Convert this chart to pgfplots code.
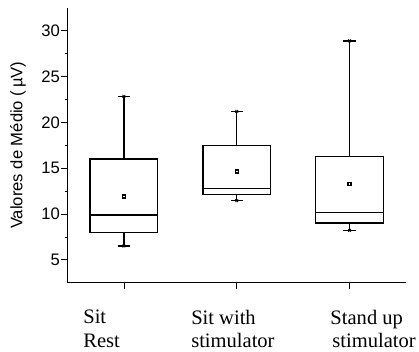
\documentclass[border=0pt]{standalone}
\usepackage{fontspec}
\setmainfont{Liberation Sans}
\newfontfamily\timesf{Liberation Serif}
\usepackage{pgfplots}
\pgfplotsset{compat=1.18}
\usepgfplotslibrary{statistics}
\begin{document}
\begin{tikzpicture}
\begin{axis}[
  scale only axis,
  width=346bp, height=281bp,
  xmin=-0.5, xmax=2.5,
  ymin=2.5, ymax=32.5,
  axis lines*=left,
  axis line style={line width=0.8bp},
  clip=false,
  xtick={0,1,2},
  xticklabels={{\hspace*{5bp}Sit\\\hspace*{5bp}Rest},{Sit with\\stimulator},{\hspace*{27bp}Stand up\\\hspace*{29bp}stimulator}},
  xticklabel style={font=\timesf\fontsize{21bp}{24bp}\selectfont, anchor=north west, align=left, xshift=-50bp, yshift=-18bp},
  ytick={5,10,15,20,25,30},
  minor y tick num=1,
  tick align=outside,
  major tick length=6.5bp,
  minor tick length=3bp,
  tick style={line width=0.8bp, black},
  /pgf/number format/assume math mode=true,
  yticklabel style={font=\fontsize{17bp}{20bp}\selectfont, inner sep=1bp},
  ylabel={Valores de Médio (\,µV)},
  ylabel style={font=\fontsize{17bp}{20bp}\selectfont, at={(axis description cs:0,0.5)}, anchor=center, yshift=50.5bp},
  boxplot/draw direction=y,
  boxplot/every average/.style={/tikz/mark=square, /tikz/mark size=1.5bp, /tikz/line width=0.5bp},
]
\coordinate (O) at (rel axis cs:0,0);
\addplot[black, line width=1.4bp, solid, boxplot prepared={draw position=0, lower whisker=6.5, lower quartile=8.0, median=9.9, upper quartile=16.0, upper whisker=22.85, average=11.9, box extend=0.6, whisker extend=0.11}] coordinates {};
\addplot[black, line width=1.4bp, solid, boxplot prepared={draw position=1, lower whisker=11.45, lower quartile=12.1, median=12.8, upper quartile=17.5, upper whisker=21.2, average=14.65, box extend=0.6, whisker extend=0.11}] coordinates {};
\addplot[black, line width=1.4bp, solid, boxplot prepared={draw position=2, lower whisker=8.2, lower quartile=9.0, median=10.15, upper quartile=16.3, upper whisker=28.9, average=13.3, box extend=0.6, whisker extend=0.11}] coordinates {};
\addplot[only marks, black, mark=x, mark size=2bp, mark options={line width=0.8bp}] coordinates {(0,22.85) (0,6.5) (1,21.2) (1,11.45) (2,28.9) (2,8.2)};
\end{axis}
\path (O) ++(-69bp,-64bp) rectangle ++(419bp,353bp);
\end{tikzpicture}
\end{document}
